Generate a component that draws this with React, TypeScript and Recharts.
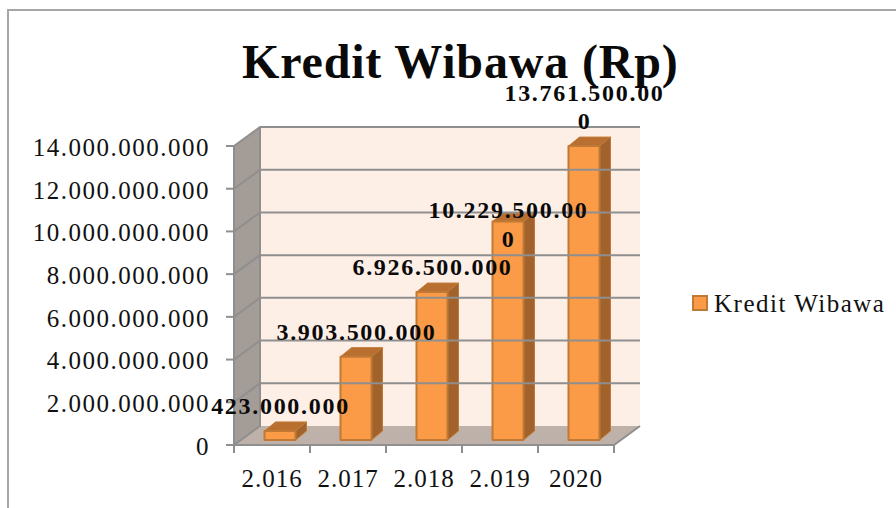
import React from "react";
import { BarChart, Bar, XAxis, YAxis, Legend, LabelList, ReferenceArea, ReferenceLine } from "recharts";

const categories = ["2.016", "2.017", "2.018", "2.019", "2020"];
const kreditValues = [423000000, 3903500000, 6926500000, 10229500000, 13761500000];
const yTicks = [0, 2000000000, 4000000000, 6000000000, 8000000000, 10000000000, 12000000000, 14000000000];
const chartData = categories.map((year, i) => ({ year, value: kreditValues[i] }));

const FONT = "'Liberation Serif', serif";
const DX = 26, DY = 19;
const GRID = "#8f8f8f";
const fmt = (v: number) => String(v).replace(/\B(?=(\d{3})+(?!\d))/g, ".");

function Wall(p: any) {
  const { x, y, width: w, height: h } = p;
  return (
    <g>
      <polygon points={`${x},${y} ${x + DX},${y - DY} ${x + DX},${y + h - DY} ${x},${y + h}`} fill="#a49c97" />
      <polygon points={`${x},${y + h} ${x + w},${y + h} ${x + w + DX},${y + h - DY} ${x + DX},${y + h - DY}`} fill="#bdb1aa" />
      <rect x={x + DX} y={y - DY} width={w} height={h} fill="#fdeee6" />
      <path d={`M${x},${y}V${y + h}H${x + w}L${x + w + DX},${y + h - DY}M${x},${y + h}L${x + DX},${y + h - DY}V${y - DY}`} fill="none" stroke={GRID} strokeWidth={2} />
    </g>
  );
}

function GridLine(p: any) {
  const { x1, x2, y1 } = p;
  return <path d={`M${x1},${y1}L${x1 + DX},${y1 - DY}H${x2 + DX}`} fill="none" stroke={GRID} strokeWidth={2} />;
}

function Bar3D(p: any) {
  const { x, y, width: w, height: h } = p;
  const fx = x + 7.5, fy = y - 5, dx = 11, dy = 9;
  const edge = "#c07a35";
  return (
    <g strokeLinejoin="round">
      <polygon points={`${fx},${fy} ${fx + dx},${fy - dy} ${fx + w + dx},${fy - dy} ${fx + w},${fy}`} fill="#b96f30" stroke={edge} />
      <polygon points={`${fx + w},${fy} ${fx + w + dx},${fy - dy} ${fx + w + dx},${fy + h - dy} ${fx + w},${fy + h}`} fill="#a2622c" stroke={edge} />
      <rect x={fx} y={fy} width={w} height={h} fill="#fb9a47" stroke={edge} strokeWidth={2} />
    </g>
  );
}

function BarLabel(p: any) {
  const { x, y, width: w, value, index } = p;
  const s = fmt(Number(value));
  const lines = s.length > 13 ? [s.slice(0, 13), s.slice(13)] : [s];
  const cx = x + w / 2 + 8;
  const last = y - 22 + (index === 3 ? 42 : 0);
  return (
    <text textAnchor="middle" fontFamily={FONT} fontWeight="bold" fontSize={24} letterSpacing={1.7} fill="#0a0a0a">
      {lines.map((l, i) => (
        <tspan key={i} x={cx} y={last - (lines.length - 1 - i) * 28.5}>{l}</tspan>
      ))}
    </text>
  );
}

function XTick(p: any) {
  const { x, y, payload, index } = p;
  const half = 38;
  return (
    <g>
      <path d={`M${x - half},${y - 8}v8${index === categories.length - 1 ? `M${x + half},${y - 8}v8` : ""}`} stroke={GRID} strokeWidth={2} />
      <text x={x} y={y + 34} textAnchor="middle" fontFamily={FONT} fontSize={25} letterSpacing={1} fill="#111">{payload.value}</text>
    </g>
  );
}

function LegendBox(p: any) {
  const item = p.payload?.[0];
  return (
    <div style={{ display: "flex", alignItems: "center", fontFamily: FONT, fontSize: 25, letterSpacing: 1.5, color: "#111", whiteSpace: "nowrap" }}>
      <span style={{ width: 16, height: 16, boxSizing: "border-box", background: "#fb9a47", border: "2px solid #c07a35", marginRight: 6, marginTop: -3 }} />
      {item?.value}
    </div>
  );
}

export default function App() {
  return (
    <div style={{ position: "absolute", left: 0, top: 0, width: 896, height: 508, overflow: "hidden", background: "#fff" }}>
      <div style={{ position: "absolute", left: 7, top: 9, width: 900, height: 510, borderLeft: "2px solid #a6a6a6", borderTop: "2px solid #a6a6a6" }} />
      <div style={{ position: "absolute", left: 242, top: 34, fontFamily: FONT, fontWeight: "bold", fontSize: 48, letterSpacing: 0.85, color: "#0a0a0a", whiteSpace: "nowrap" }}>Kredit Wibawa (Rp)</div>
      <div style={{ position: "absolute", left: 0, top: 0 }}>
        <BarChart width={896} height={508} data={chartData} margin={{ top: 146, right: 82, bottom: 0, left: 0 }} barSize={31}>
          <ReferenceArea y1={0} y2={14000000000} shape={Wall} ifOverflow="visible" />
          {yTicks.slice(1).map((t) => (
            <ReferenceLine key={t} y={t} shape={GridLine as any} ifOverflow="visible" />
          ))}
          <XAxis dataKey="year" height={63} axisLine={false} tickLine={false} tick={XTick as any} interval={0} />
          <YAxis width={234} domain={[0, 14000000000]} ticks={yTicks} tickFormatter={fmt} axisLine={false} tickLine={{ stroke: GRID, strokeWidth: 2 }} tickSize={8} tickMargin={16} tick={{ fontFamily: FONT, fontSize: 25, letterSpacing: 1.5, fill: "#111", dy: 1 }} interval={0} />
          <Legend layout="vertical" align="right" verticalAlign="middle" content={LegendBox as any} wrapperStyle={{ position: "absolute", left: 692, top: 290, width: 200 }} />
          <Bar dataKey="value" name="Kredit Wibawa" fill="#fb9a47" shape={Bar3D} isAnimationActive={false}>
            <LabelList dataKey="value" content={BarLabel as any} />
          </Bar>
        </BarChart>
      </div>
    </div>
  );
}
